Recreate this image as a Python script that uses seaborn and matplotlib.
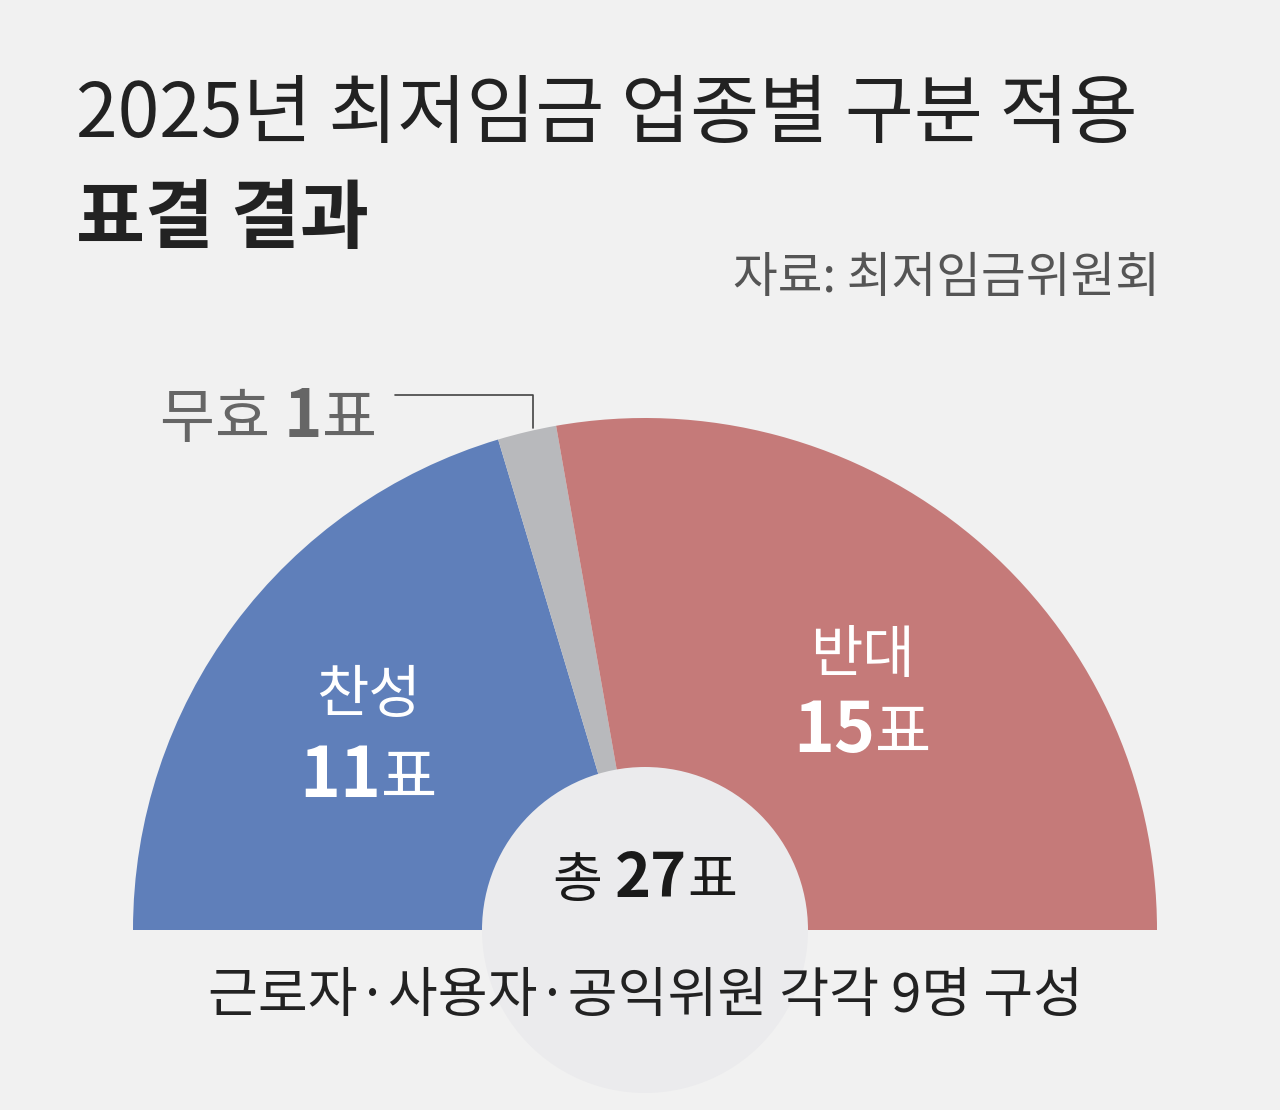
import matplotlib
matplotlib.use("Agg")
import matplotlib.pyplot as plt
import seaborn as sns
from matplotlib.patches import Circle

sns.set_theme(style="white")
plt.rcParams['font.family'] = ['Noto Sans CJK KR', 'DejaVu Sans']

labels = ["찬성", "무효", "반대"]
votes = [11, 1, 15]
colors = ["#5f7fba", "#b8b9bc", "#c57a79"]
bg = "#f1f1f1"

W, H = 1280, 1110
fig = plt.figure(figsize=(12.8, 11.1), dpi=100, facecolor=bg)
ax = fig.add_axes([0, 0, 1, 1])
ax.set_xlim(0, W)
ax.set_ylim(0, H)
ax.set_aspect('equal')
ax.axis('off')

cx, cy, R = 645, H - 930, 512
total = sum(votes)
ax.pie(votes + [total], startangle=180, counterclock=False, center=(cx, cy), radius=R,
       colors=colors + ["none"], wedgeprops=dict(linewidth=0), frame=True)
ax.set_xlim(0, W)
ax.set_ylim(0, H)
ax.axis('off')
ax.add_patch(Circle((cx, cy), 163, color="#ebebed", zorder=5, lw=0))

renderer = fig.canvas.get_renderer()


def seq(parts, x, y, ha="left", color="#222"):
    # parts: list of (text, weight, size)
    objs = []
    for t, w, s in parts:
        objs.append(ax.text(0, y, t, fontsize=s, fontweight=w, color=color, va="baseline", zorder=10))
    widths = [o.get_window_extent(renderer).width for o in objs]
    tot = sum(widths)
    start = x if ha == "left" else (x - tot / 2 if ha == "center" else x - tot)
    for o, wd in zip(objs, widths):
        o.set_x(start)
        start += wd


ax.text(76, H - 137, "2025년 최저임금 업종별 구분 적용", fontsize=54, fontweight="medium", color="#222")
ax.text(76, H - 242, "표결 결과", fontsize=54, fontweight="bold", color="#222")
ax.text(1160, H - 292, "자료: 최저임금위원회", fontsize=35, color="#555", ha="right")

seq([("무효 ", "normal", 43), ("1", "bold", 47), ("표", "normal", 43)], 160, H - 437, color="#666")
ax.plot([395, 533, 533], [H - 395, H - 395, H - 428], color="#444", lw=1.2)

ax.text(368, H - 712, "찬성", fontsize=41, color="white", ha="center", zorder=10)
seq([("11", "bold", 50), ("표", "normal", 44)], 368, H - 797, ha="center", color="white")
ax.text(862, H - 672, "반대", fontsize=41, color="white", ha="center", zorder=10)
seq([("15", "bold", 50), ("표", "normal", 44)], 862, H - 752, ha="center", color="white")

seq([("총 ", "normal", 39), ("27", "bold", 44), ("표", "normal", 39)], 645, H - 897, ha="center", color="#1a1a1a")
ax.text(645, H - 1012, "근로자·사용자·공익위원 각각 9명 구성", fontsize=39, color="#222", ha="center", zorder=10)

fig.savefig("out.png", dpi=100, facecolor=bg)
